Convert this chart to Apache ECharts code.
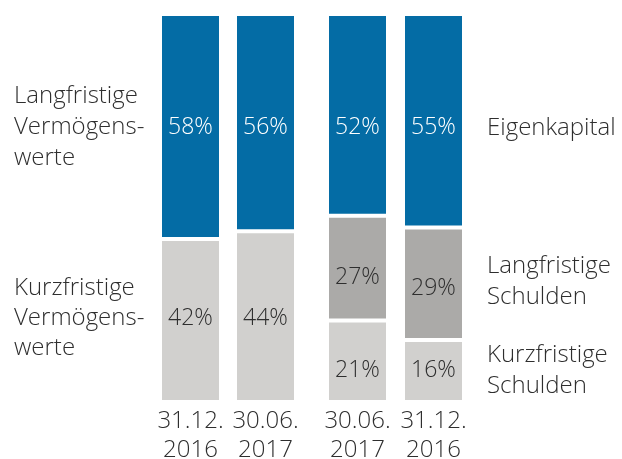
<!DOCTYPE html>
<html>
<head>
<meta charset="utf-8">
<script src="https://cdn.jsdelivr.net/npm/echarts@6/dist/echarts.min.js"></script>
<style>
  html, body { margin: 0; padding: 0; background: #fff; }
  #chart { width: 622px; height: 459px; }
</style>
</head>
<body>
<div id="chart"></div>
<script>
// Aktiva (links) und Passiva (rechts), Anteile in %
const assetDates = ['31.12.\n2016', '30.06.\n2017']
const liabDates = ['30.06.\n2017', '31.12.\n2016']
const longTermAssets = [58, 56]
const shortTermAssets = [42, 44]
const equity = [52, 55]
const longTermDebt = [27, 29]
const shortTermDebt = [21, 16]

const FONT = 'Open Sans'
const WEIGHT = 350
const BLUE = '#046ca5'
const DARK = '#abaaa8'
const LIGHT = '#d1d0ce'
const TEXT = '#2e2e2e'

const pct = (p) => p.value + '%'

const barSeries = (name, data, idx, color, label) => ({
  name,
  type: 'bar',
  stack: 'total' + idx,
  xAxisIndex: idx,
  yAxisIndex: idx,
  barWidth: 61,
  data,
  itemStyle: { color, borderColor: '#fff', borderWidth: 2 },
  label: {
    show: true,
    formatter: pct,
    fontFamily: FONT,
    fontWeight: WEIGHT,
    fontSize: 23,
    color: color === BLUE ? '#fff' : TEXT,
    ...label
  }
})

const axisX = (data, gridIndex) => ({
  type: 'category',
  gridIndex,
  data,
  axisLine: { show: false },
  axisTick: { show: false },
  axisLabel: {
    interval: 0,
    margin: 5,
    fontFamily: FONT,
    fontWeight: WEIGHT,
    fontSize: 24,
    lineHeight: 29,
    color: TEXT
  }
})

const axisY = (gridIndex) => ({
  type: 'value',
  gridIndex,
  min: 0,
  max: 100,
  show: false
})

const sideText = (left, top, text, lineHeight) => ({
  type: 'text',
  left,
  top,
  style: {
    text,
    fontFamily: FONT,
    fontWeight: WEIGHT,
    fontSize: 24,
    lineHeight,
    fill: TEXT
  }
})

const chart = echarts.init(document.getElementById('chart'), null, { renderer: 'canvas' })
chart.setOption({
  animation: false,
  grid: [
    { left: 153, width: 150, top: 14, height: 388, containLabel: false, outerBoundsMode: 'none' },
    { left: 319.5, width: 152, top: 14, height: 388, containLabel: false, outerBoundsMode: 'none' }
  ],
  xAxis: [axisX(assetDates, 0), axisX(liabDates, 1)],
  yAxis: [axisY(0), axisY(1)],
  series: [
    barSeries('Kurzfristige Vermögenswerte', shortTermAssets, 0, LIGHT, { position: 'insideBottom', distance: 72 }),
    barSeries('Langfristige Vermögenswerte', longTermAssets, 0, BLUE, { position: 'insideTop', distance: 102 }),
    barSeries('Kurzfristige Schulden', shortTermDebt, 1, LIGHT, { position: 'insideBottom', distance: 20 }),
    barSeries('Langfristige Schulden', longTermDebt, 1, DARK, { position: 'insideTop', distance: 50 }),
    barSeries('Eigenkapital', equity, 1, BLUE, { position: 'insideTop', distance: 102 })
  ],
  graphic: [
    sideText(14, 81, 'Langfristige\nVermögens-\nwerte', 31),
    sideText(14, 273, 'Kurzfristige\nVermögens-\nwerte', 30),
    sideText(487, 113, 'Eigenkapital', 30),
    sideText(487, 251, 'Langfristige\nSchulden', 31),
    sideText(487, 340, 'Kurzfristige\nSchulden', 31)
  ]
})
</script>
</body>
</html>
